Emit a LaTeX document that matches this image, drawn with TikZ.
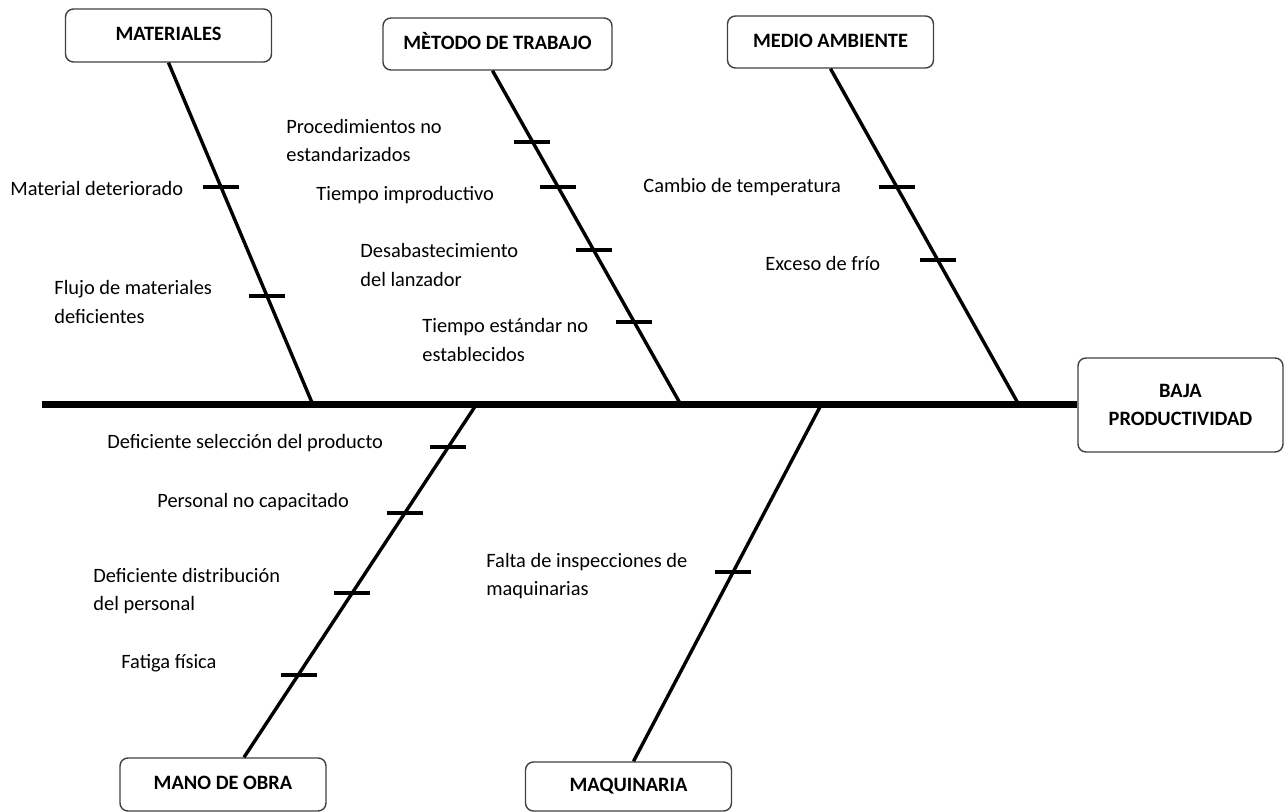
\documentclass[tikz,border=0pt]{standalone}
\usepackage{fontspec}
\setmainfont{Carlito}

\begin{document}
\begin{tikzpicture}[x=0.5pt, y=-0.5pt, font=\fontsize{10.2}{14.4}\selectfont,
  caja/.style={draw=black!75, line width=0.7pt, rounded corners=4pt, font=\fontsize{10.2}{14.2}\selectfont\bfseries, minimum width=103pt, minimum height=26.5pt, align=center},
  titulo/.style={caja, text height=7pt, text depth=1.5pt},
  causa/.style={anchor=west, align=left, inner sep=0pt},
  espina/.style={line width=1.7pt},
  marca/.style={line width=2pt}]
  \useasboundingbox (0,0) rectangle (1287,812);

  \node[titulo] (mat) at (168.5,35.5) {MATERIALES};
  \node[titulo, minimum width=114.5pt, minimum height=26pt] (met) at (497.5,44) {MÈTODO DE TRABAJO};
  \node[titulo, minimum height=26pt] (med) at (830.5,42) {MEDIO AMBIENTE};
  \node[titulo] (mano) at (223,784.5) {MANO DE OBRA};
  \node[titulo, minimum height=24.5pt] (maq) at (628.5,786.5) {MAQUINARIA};
  \node[caja, minimum width=102.5pt, minimum height=47pt] (efecto) at (1180.5,405) {BAJA\\PRODUCTIVIDAD};

  \coordinate (cola) at (42,405);
  \coordinate (p1) at (313,405);
  \coordinate (p2) at (681,405);
  \coordinate (p3) at (1019,405);
  \coordinate (p4) at (476,405);
  \coordinate (p5) at (821,405);
  \draw[line width=3.5pt] (cola) -- (efecto);

  \draw[espina] (mat.south) -- coordinate[pos=0.364] (m1) coordinate[pos=0.682] (m2) (p1);
  \draw[espina] ([xshift=-2.5pt]met.south) -- coordinate[pos=0.212] (t1) coordinate[pos=0.349] (t2)
    coordinate[pos=0.537] (t3) coordinate[pos=0.752] (t4) (p2);
  \draw[espina] (med.south) -- coordinate[pos=0.353] (a1) coordinate[pos=0.570] (a2) (p3);
  \draw[espina] (p4) -- coordinate[pos=0.119] (o1) coordinate[pos=0.306] (o2)
    coordinate[pos=0.533] (o3) coordinate[pos=0.765] (o4) ([xshift=10.5pt]mano.north);
  \draw[espina] (p5) -- coordinate[pos=0.468] (q1) ([xshift=2.5pt]maq.north);

  \foreach \t in {m1,m2,t1,t2,t3,t4,a1,a2,o1,o2,o3,o4,q1}
    \draw[marca] (\t) ++(-18,0) -- ++(36,0);

  \node[causa] (c1) at (10,188) {Material deteriorado};
  \node[causa] (c2) at (54,302) {Flujo de materiales\\deficientes};
  \node[causa] (c3) at (286,140.5) {Procedimientos no\\estandarizados};
  \node[causa] (c4) at (316,195) {Tiempo improductivo};
  \node[causa] (c5) at (360,265) {Desabastecimiento\\del lanzador};
  \node[causa] (c6) at (422,340) {Tiempo estándar no\\establecidos};
  \node[causa] (c7) at (643,187) {Cambio de temperatura};
  \node[causa] (c8) at (765,263) {Exceso de frío};
  \node[causa] (c9) at (107,443) {Deficiente selección del producto};
  \node[causa] (c10) at (157,502) {Personal no capacitado};
  \node[causa] (c11) at (93,591) {Deficiente distribución\\del personal};
  \node[causa] (c12) at (121,663) {Fatiga física};
  \node[causa] (c13) at (486,576) {Falta de inspecciones de\\maquinarias};
\end{tikzpicture}
\end{document}
